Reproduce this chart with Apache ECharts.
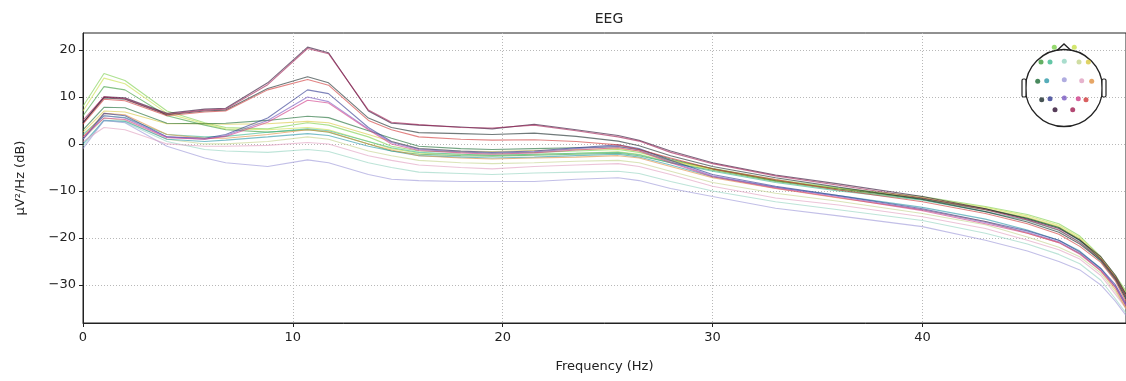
<!DOCTYPE html>
<html>
<head>
<meta charset="utf-8">
<title>EEG PSD</title>
<script src="https://cdn.jsdelivr.net/npm/echarts@6/dist/echarts.min.js"></script>
<style>
  html, body { margin: 0; padding: 0; background: #fff; }
  #chart { width: 1126px; height: 381px; }
</style>
</head>
<body>
<div id="chart"></div>
<script>
// frequency bins (Hz)
var freqs = [0, 1, 2, 4, 5.8, 6.8, 8.8, 10.7, 11.7, 13.6, 14.7, 16, 18, 19.5, 21.5, 23.5, 25.5, 26.5, 28, 30, 33, 36, 40, 43, 45, 46.5, 47.5, 48.5, 49.2, 49.7];

// channel names, colours and sensor positions on the head sketch
var chNames = ['Fp1','Fp2','F7','F3','Fz','F4','F8','T3','C3','Cz','C4','T4','T5','P3','Pz','P4','T6','O1','O2'];
var chColors = ['#7ccf4c','#c8e04c','#3c9c3c','#3cb890','#94d4c0','#c4d48c','#d8c840','#1c6c34','#2c98a8','#9c98d8','#e0a0c0','#e09040','#182828','#303890','#7858c0','#d03c88','#d03838','#2c0c30','#a01c50'];
var chX = [39.3, 59.3, 26, 35, 49.3, 64, 73.3, 22.7, 31.7, 49.3, 66.7, 76.7, 26.7, 35, 49.3, 63.3, 71, 40, 57.7];
var chY = [9.3, 9.3, 24, 24, 23.3, 24, 24, 43.3, 42.7, 41.7, 42.7, 43.3, 61.7, 60.7, 60, 60.7, 61.7, 71.7, 71.7];

// PSD values (dB) per channel
var psdFp1 = [8, 15, 13.5, 7, 4.5, 3.5, 3.2, 4.5, 4, 1.5, -0.5, -1.5, -1.7, -2, -1.8, -1.5, -1.2, -1.8, -3.5, -5.2, -7.6, -9.4, -11.2, -13.3, -15, -17, -19.6, -24, -28, -31.3];
var psdFp2 = [7, 14, 12.8, 6.5, 4.3, 3.2, 3, 3.5, 3, 0.5, -1, -2, -2.2, -2.4, -2.2, -2, -1.7, -2.2, -3.8, -5.4, -7.8, -9.5, -11.4, -13.5, -15.3, -17.3, -19.9, -24.2, -28.3, -31.6];
var psdF7 = [6, 12.2, 11.5, 6, 4, 3, 2.5, 3, 2.5, 0, -1.5, -2.2, -2.5, -2.6, -2.4, -2.2, -2, -2.5, -4, -5.6, -8, -9.8, -11.8, -14, -15.8, -17.8, -20.3, -24.5, -28.5, -32];
var psdF3 = [2, 6, 5.6, 2, 1.5, 1.6, 2.5, 3.2, 2.8, 0.5, -0.8, -1.8, -2.2, -2.4, -2.2, -2, -1.8, -2.3, -4, -5.8, -8.2, -10, -12, -14.4, -16.3, -18.4, -20.8, -25, -29, -33];
var psdFz = [-0.5, 5, 4.6, 0.5, -1.2, -1.5, -1.8, -1.2, -1.6, -4, -5, -6, -6.3, -6.5, -6.2, -6, -5.8, -6.3, -8, -10, -12.3, -14, -16.3, -19, -21.3, -23.5, -25.5, -29, -33, -36];
var psdF4 = [1, 5.5, 5, 1, 0, 0, 0.5, 1.5, 1, -1.5, -2.5, -3.5, -4, -4.2, -4, -3.7, -3.5, -4, -5.8, -8.2, -10.5, -12.2, -14.8, -17.2, -19.8, -22, -24, -27.5, -31.5, -35];
var psdF8 = [2.5, 7, 6.8, 4.3, 4.3, 4.2, 4.3, 4.8, 4.5, 2, 0.5, -1, -1.5, -1.6, -1.4, -1.2, -1, -1.5, -3.5, -5.4, -7.8, -9.6, -11.5, -13.8, -15.6, -17.6, -20.2, -24.4, -28.4, -32.3];
var psdT3 = [3, 7.8, 7.7, 4.4, 4.3, 4.4, 5, 5.9, 5.6, 2.8, 1.2, -0.5, -1, -1.2, -1, -0.8, -0.6, -1.2, -3.2, -5.3, -7.8, -9.6, -11.6, -13.8, -15.8, -17.8, -20.5, -24.5, -28.5, -32.5];
var psdC3 = [0, 5, 4.8, 1, 0.5, 0.8, 1.5, 2.2, 1.8, -0.5, -1.5, -2.5, -2.8, -3, -2.8, -2.5, -2.2, -2.8, -4.5, -7, -9.2, -11, -13.5, -16, -18.3, -20.5, -22.8, -26.5, -30.5, -34.5];
var psdCz = [-1, 5, 4.5, -0.5, -3, -4, -4.8, -3.4, -4, -6.5, -7.5, -7.8, -8, -8, -8, -7.5, -7.2, -7.8, -9.5, -11.2, -13.7, -15.3, -17.6, -20.5, -22.8, -25, -26.8, -30, -33.5, -36.5];
var psdC4 = [0.5, 3.5, 3, 0, -0.5, -0.5, -0.3, 0.3, 0, -2.5, -3.5, -4.5, -5, -5.3, -4.8, -4.5, -4.2, -4.8, -6.5, -9, -11.5, -13, -15.5, -18, -20.5, -22.5, -24.5, -28, -32, -35];
var psdT4 = [1.5, 6.5, 6.2, 2, 1.2, 1.2, 2, 3, 2.6, 0, -1.3, -2.5, -3, -3.2, -3, -2.8, -2.5, -3, -4.8, -7.2, -9.5, -11.5, -14, -16.5, -19, -21, -23.3, -27, -31, -35];
var psdT5 = [4.5, 9.8, 9.5, 6.2, 7, 7.2, 11.8, 14.3, 13, 5.5, 3.5, 2.4, 2.2, 2, 2.3, 1.6, 0.6, -0.4, -2.5, -4.8, -7.2, -9.2, -11.8, -14.4, -16.6, -18.8, -21.3, -24.8, -28.8, -33];
var psdP3 = [1, 6.5, 6, 1.5, 1.2, 2, 5.5, 11.5, 10.7, 3.5, 0.5, -1, -1.5, -1.8, -1.5, -0.8, -0.2, -1, -3.5, -6.5, -9, -11, -13.8, -16.5, -18.5, -20.5, -23, -26.5, -30, -34];
var psdPz = [1, 6, 5.5, 1.5, 1, 1.8, 5, 10, 9, 3.2, 0.3, -1.2, -1.7, -2, -1.7, -1, -0.5, -1.3, -3.8, -6.8, -9.2, -11.2, -14, -16.7, -18.8, -20.8, -23.3, -26.8, -30.3, -34.3];
var psdP4 = [1.5, 5.5, 5.2, 1.3, 1, 1.6, 4.6, 9.3, 8.7, 3, 0, -1.4, -1.9, -2.2, -1.9, -1.3, -0.8, -1.5, -4, -7, -9.4, -11.4, -14.2, -17, -19, -21, -23.5, -27, -30.5, -34.5];
var psdT6 = [4.2, 9.5, 9.2, 6, 6.8, 7, 11.5, 13.7, 12.5, 5, 3, 1.5, 1, 0.8, 0.9, 0.5, -0.2, -1.2, -3, -5.3, -7.6, -9.8, -12.3, -14.8, -17, -19.2, -21.8, -25.2, -29.2, -33.5];
var psdO1 = [4.5, 10, 9.8, 6.5, 7.4, 7.6, 13, 20.6, 19.4, 7, 4.4, 4, 3.6, 3.2, 4.2, 3, 1.8, 0.8, -1.5, -4, -6.6, -8.5, -11.2, -13.8, -16, -18, -20.5, -24, -28, -32];
var psdO2 = [5, 10, 9.6, 6.3, 7.2, 7.4, 12.6, 20.3, 19.2, 7.2, 4.6, 4.1, 3.5, 3.4, 4, 2.8, 1.5, 0.6, -1.8, -4.2, -6.8, -8.8, -11.5, -14, -16.2, -18.3, -21, -24.5, -28.5, -32.5];

var psdAll = [psdFp1, psdFp2, psdF7, psdF3, psdFz, psdF4, psdF8, psdT3, psdC3, psdCz, psdC4, psdT4, psdT5, psdP3, psdPz, psdP4, psdT6, psdO1, psdO2];

var yTicks = [-30, -20, -10, 0, 10, 20];

var chart = echarts.init(document.getElementById('chart'));

var series = psdAll.map(function (vals, i) {
    return {
        name: chNames[i],
        type: 'line',
        xAxisIndex: 0,
        yAxisIndex: 0,
        data: vals.map(function (v, j) { return [freqs[j], v]; }),
        symbol: 'none',
        silent: true,
        lineStyle: { color: chColors[i], width: 1.1, opacity: 0.62 }
    };
});

// sensor dots on the head sketch
series.push({
    type: 'scatter',
    xAxisIndex: 1,
    yAxisIndex: 1,
    symbolSize: 5,
    silent: true,
    data: chNames.map(function (n, i) {
        return { value: [chX[i], chY[i]], itemStyle: { color: chColors[i] } };
    }),
    z: 5
});

var fontFam = 'DejaVu Sans';

chart.setOption({
    animation: false,
    title: {
        text: 'EEG',
        left: 604,
        top: 7,
        textAlign: 'center',
        textStyle: { fontFamily: fontFam, fontSize: 14, fontWeight: 'normal', color: '#222' }
    },
    grid: [
        { left: 83, right: 0, top: 33, bottom: 58, show: true, borderColor: '#222', borderWidth: 1 },
        { left: 1015, right: 11, top: 38, bottom: 248 }
    ],
    xAxis: [{
        type: 'value',
        min: 0,
        max: 49.7,
        interval: 10,
        name: 'Frequency (Hz)',
        nameLocation: 'middle',
        nameGap: 37,
        nameTextStyle: { fontFamily: fontFam, fontSize: 13, color: '#222' },
        axisLine: { onZero: false, lineStyle: { color: '#222', width: 1 } },
        axisTick: { show: true, length: 4, lineStyle: { color: '#222' } },
        axisLabel: { fontFamily: fontFam, fontSize: 13, color: '#222', margin: 8, showMaxLabel: false },
        splitLine: { show: true, lineStyle: { color: '#b8b8b8', type: [1, 2], width: 1 } }
    }, {
        type: 'value', gridIndex: 1, min: 0, max: 100, show: false
    }],
    yAxis: [{
        type: 'value',
        min: -38.1,
        max: 23.6,
        name: 'µV²/Hz (dB)',
        nameLocation: 'middle',
        nameGap: 56,
        nameTextStyle: { fontFamily: fontFam, fontSize: 13, color: '#222' },
        axisLine: { show: true, onZero: false, lineStyle: { color: '#222', width: 1 } },
        axisTick: { show: true, length: 4, lineStyle: { color: '#222' }, customValues: yTicks },
        axisLabel: {
            fontFamily: fontFam, fontSize: 13, color: '#222', margin: 7,
            customValues: yTicks,
            formatter: function (v) { return v < 0 ? '\u2212' + Math.abs(v) : String(v); }
        },
        splitLine: { show: true, lineStyle: { color: '#b8b8b8', type: [1, 2], width: 1 } }
    }, {
        type: 'value', gridIndex: 1, min: 0, max: 95, inverse: true, show: false
    }],
    graphic: [
        { type: 'circle', shape: { cx: 1064, cy: 88, r: 38.5 }, style: { fill: 'none', stroke: '#222', lineWidth: 1.3 }, z: 1 },
        { type: 'polyline', shape: { points: [[1057, 50.5], [1064, 44], [1071, 50.5]] }, style: { fill: 'none', stroke: '#222', lineWidth: 1.3 }, z: 1 },
        { type: 'rect', shape: { x: 1022, y: 79, width: 4, height: 18, r: 1.5 }, style: { fill: '#fff', stroke: '#222', lineWidth: 1.2 }, z: 1 },
        { type: 'rect', shape: { x: 1102, y: 79, width: 4, height: 18, r: 1.5 }, style: { fill: '#fff', stroke: '#222', lineWidth: 1.2 }, z: 1 }
    ],
    series: series
});
</script>
</body>
</html>
